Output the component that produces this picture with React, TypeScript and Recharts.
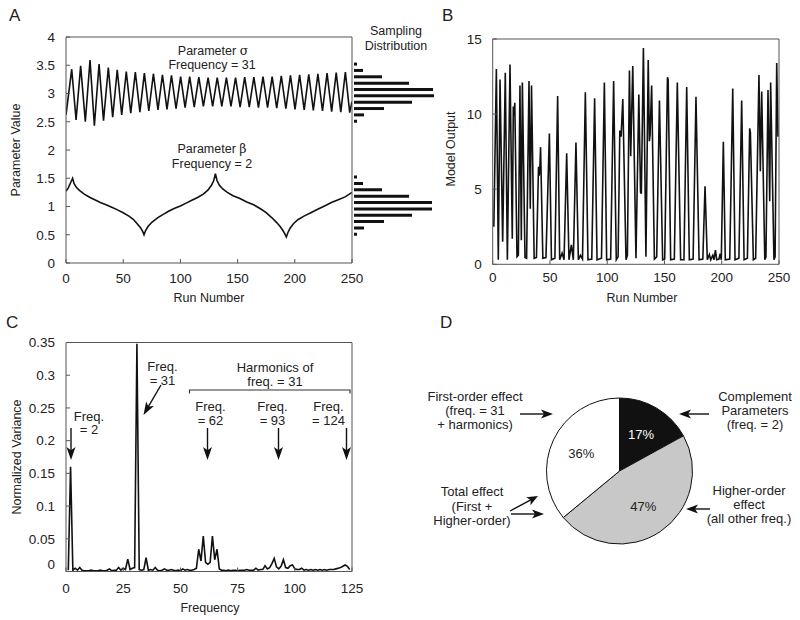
import React from 'react';
import { LineChart, Line, XAxis, YAxis, BarChart, Bar, PieChart, Pie, Cell } from 'recharts';

const FONT = '"Liberation Sans", Arial, Helvetica, sans-serif';
const AXIS = '#555';
const TXT = '#222';

// ---------- Panel A ----------
const runTicks = [0, 50, 100, 150, 200, 250];
const runInnerTicks = [50, 100, 150, 200];
const paramTicks = [0, 0.5, 1, 1.5, 2, 2.5, 3, 3.5, 4];
const paramInnerTicks = [0.5, 1, 1.5, 2, 2.5, 3, 3.5];

const sigmaPoints: [number, number][] = [
  [0, 2.62], [5.0, 3.43], [8.8, 2.53], [12.8, 3.49], [16.9, 2.5], [21.0, 3.59], [24.8, 2.43],
  [28.9, 3.52], [32.8, 2.52], [37.0, 3.46], [40.8, 2.58], [44.8, 3.42], [48.7, 2.62], [52.7, 3.39],
  [56.6, 2.65], [60.6, 3.38], [64.6, 2.67], [68.5, 3.36], [72.4, 2.69], [76.4, 3.35], [80.4, 2.71],
  [84.3, 3.33], [88.3, 2.72], [92.2, 3.32], [96.2, 2.73], [100.2, 3.3], [104.1, 2.75], [108.1, 3.3],
  [112.1, 2.76], [116.1, 3.29], [120.1, 2.77], [124.2, 3.28], [128.2, 2.77], [132.2, 3.28], [136.2, 2.77],
  [140.2, 3.28], [144.2, 2.77], [148.2, 3.28], [152.2, 2.76], [156.2, 3.29], [160.2, 2.76], [164.2, 3.29],
  [168.2, 2.75], [172.2, 3.3], [176.2, 2.75], [180.2, 3.3], [184.2, 2.74], [188.2, 3.31], [192.2, 2.73],
  [196.2, 3.32], [200.2, 2.72], [204.2, 3.33], [208.2, 2.71], [212.2, 3.34], [216.2, 2.7], [220.2, 3.35],
  [224.2, 2.69], [228.2, 3.36], [232.2, 2.68], [236.2, 3.37], [240.2, 2.67], [244.2, 3.38], [248.0, 2.66],
  [250, 2.86],
];

const betaPoints: [number, number][] = [
  [0, 1.27], [2, 1.33], [4, 1.42], [5.8, 1.5], [7, 1.41], [9, 1.34], [12, 1.28], [16, 1.22], [21, 1.16],
  [26, 1.11], [30, 1.07], [35, 1.03], [40, 0.985], [45, 0.94], [50, 0.89], [55, 0.83], [59, 0.77],
  [62, 0.7], [65, 0.63], [67, 0.56], [68.2, 0.5], [69.5, 0.57], [71.5, 0.64], [75, 0.72], [80, 0.8],
  [85, 0.86], [90, 0.92], [95, 0.97], [100, 1.01], [105, 1.06], [110, 1.11], [115, 1.16], [120, 1.22],
  [124, 1.29], [127, 1.37], [129, 1.45], [130.6, 1.58], [132, 1.46], [134, 1.38], [137, 1.31], [141, 1.25],
  [146, 1.19], [152, 1.14], [158, 1.08], [164, 1.03], [170, 0.96], [175, 0.89], [180, 0.8], [184, 0.72],
  [187, 0.65], [189.5, 0.58], [191.2, 0.52], [192.6, 0.46], [194, 0.54], [196, 0.62], [199, 0.7],
  [203, 0.77], [208, 0.83], [214, 0.89], [220, 0.95], [226, 1.01], [232, 1.07], [238, 1.12], [244, 1.17],
  [250, 1.25],
];

const sigmaBins = ['3.52', '3.41', '3.30', '3.19', '3.08', '2.96', '2.85', '2.74', '2.63', '2.52'];
const sigmaCounts = [3, 9, 28, 55, 79, 80, 58, 30, 10, 3];
const betaBins = ['1.53', '1.42', '1.31', '1.20', '1.09', '0.98', '0.87', '0.76', '0.65', '0.54'];
const betaCounts = [3, 9, 28, 55, 78, 78, 58, 30, 10, 3];

// ---------- Panel B ----------
const outputTicks = [0, 5, 10, 15];
const outputInnerTicks = [5, 10];
const outputPoints: [number, number][] = [
  [1, 2.5], [3.2, 13.0], [4.9, 0.3], [6.4, 12.3], [8.7, 1.5], [11.0, 12.75], [12.8, 0.3], [15.1, 13.3],
  [17.1, 1.7], [18.0, 10.5], [18.6, 9.9], [19.3, 10.75], [21.2, 0.5], [22.4, 0.6], [23.8, 11.9], [25.0, 1.6],
  [25.9, 12.1], [28.2, 0.45], [29.6, 0.4], [31.7, 12.2], [32.8, 3.7], [33.9, 11.9], [36.2, 0.4], [38.2, 0.45],
  [40.0, 6.5], [40.6, 5.9], [41.1, 6.3], [41.8, 7.8], [43.8, 0.4], [46.5, 0.45], [49.5, 8.7], [51.3, 0.3],
  [54.3, 0.4], [56.7, 11.2], [58.5, 0.3], [60.6, 0.75], [62.3, 0.3], [64.6, 7.4], [66.6, 0.3], [68.7, 1.3],
  [70.4, 0.3], [72.7, 8.1], [74.8, 0.3], [76.6, 0.6], [78.4, 0.35], [80.9, 11.45], [83.2, 0.3], [86.5, 0.35],
  [89.0, 11.05], [91.1, 0.3], [95.0, 0.4], [97.5, 12.1], [99.5, 0.3], [103.0, 0.35], [105.6, 12.2], [107.9, 0.3],
  [109.5, 0.5], [111.0, 8.9], [112.1, 8.5], [113.6, 11.0], [116.4, 0.3], [117.6, 0.6], [119.4, 12.9], [120.5, 7.2],
  [122.3, 13.2], [125.1, 0.4], [127.6, 11.3], [129.1, 4.8], [129.8, 4.7], [131.6, 14.4], [133.8, 0.5], [135.8, 13.6],
  [136.8, 8.2], [137.4, 8.6], [138.8, 11.9], [141.2, 0.35], [143.2, 0.5], [145.6, 10.9], [148.4, 0.3], [150.2, 0.35],
  [152.6, 12.45], [153.2, 12.3], [155.4, 0.3], [158.6, 0.35], [161.2, 12.1], [164.1, 0.3], [167.0, 0.3], [169.4, 11.8],
  [171.7, 0.3], [175.0, 0.35], [177.5, 11.15], [180.2, 0.3], [183.5, 0.35], [185.4, 5.2], [187.4, 0.3], [189.2, 0.65],
  [190.4, 0.3], [192.2, 0.6], [193.2, 0.3], [194.5, 0.95], [195.6, 0.3], [197.6, 0.35], [198.6, 0.7], [199.6, 0.3],
  [201.4, 8.15], [203.1, 0.3], [207.0, 0.35], [209.6, 11.7], [211.6, 0.3], [215.0, 0.4], [217.4, 10.9], [219.5, 0.3],
  [222.4, 0.4], [224.4, 9.05], [225.0, 8.8], [227.6, 0.3], [229.6, 0.4], [232.5, 12.6], [233.7, 6.2], [234.9, 11.5],
  [237.6, 0.3], [238.6, 0.5], [240.4, 11.6], [241.9, 4.2], [242.7, 12.1], [245.6, 0.3], [246.6, 0.5], [248.0, 13.4],
  [249.1, 8.5],
];

// ---------- Panel C ----------
const freqTicks = [0, 25, 50, 75, 100, 125];
const freqInnerTicks = [25, 50, 75, 100];
const varianceTicks = [0, 0.05, 0.1, 0.15, 0.2, 0.25, 0.3, 0.35];
const varianceInnerTicks = [0.05, 0.1, 0.15, 0.2, 0.25, 0.3];
// normalized variance for frequencies 1..124
const spectrum = [
  0.002, 0.16, 0.002, 0.005, 0.002, 0.006, 0.002, 0.001, 0.001, 0.001,
  0.002, 0.001, 0.001, 0.001, 0.002, 0.001, 0.001, 0.002, 0.004, 0.001,
  0.002, 0.002, 0.006, 0.002, 0.005, 0.003, 0.019, 0.003, 0.005, 0.006,
  0.348, 0.003, 0.002, 0.003, 0.021, 0.002, 0.003, 0.002, 0.006, 0.002,
  0.001, 0.002, 0.004, 0.002, 0.002, 0.003, 0.002, 0.001, 0.002, 0.001,
  0.004, 0.002, 0.003, 0.002, 0.002, 0.003, 0.005, 0.034, 0.016, 0.054,
  0.014, 0.011, 0.014, 0.054, 0.018, 0.034, 0.004, 0.002, 0.002, 0.001,
  0.002, 0.001, 0.002, 0.002, 0.001, 0.002, 0.002, 0.002, 0.003, 0.002,
  0.002, 0.002, 0.005, 0.002, 0.003, 0.003, 0.009, 0.004, 0.006, 0.012,
  0.02, 0.007, 0.004, 0.008, 0.018, 0.006, 0.005, 0.009, 0.01, 0.004,
  0.003, 0.003, 0.005, 0.002, 0.003, 0.002, 0.003, 0.002, 0.003, 0.002,
  0.003, 0.002, 0.003, 0.002, 0.003, 0.003, 0.003, 0.004, 0.005, 0.006,
  0.008, 0.01, 0.008, 0.003,
];

// ---------- Panel D ----------
const pieNames = ['Complement Parameters', 'Higher-order effect', 'First-order effect'];
const pieValues = [17, 47, 36];
const pieColors = ['#111111', '#c8c8c8', '#ffffff'];
const pieLabelColors = ['#ffffff', TXT, TXT];

// ---------- derived tables ----------
const sigmaData = sigmaPoints.map(([x, y]) => ({ x, y }));
const betaData = betaPoints.map(([x, y]) => ({ x, y }));
const outputData = outputPoints.map(([x, y]) => ({ x, y }));
const spectrumData = spectrum.map((y, i) => ({ x: i + 1, y }));
const sigmaHist = sigmaBins.map((bin, i) => ({ bin, count: sigmaCounts[i] }));
const betaHist = betaBins.map((bin, i) => ({ bin, count: betaCounts[i] }));
const pieData = pieNames.map((name, i) => ({ name, value: pieValues[i] }));

const tickStyle = { fontSize: 13.5, fill: TXT, fontFamily: FONT };

const VarianceTick = (props: any) => {
  const { x, y, payload } = props;
  const v = payload.value;
  const label = v === 0 ? '0' : String(Math.round(v * 100) / 100);
  return (
    <text x={x} y={y + (v === 0 ? -7.5 : 0)} dy="0.35em" textAnchor="end" fontSize={13.5} fill={TXT} fontFamily={FONT}>
      {label}
    </text>
  );
};

const RADIAN = Math.PI / 180;
const renderPieLabel = (props: any) => {
  const { cx, cy, midAngle, outerRadius, index, value } = props;
  const r = outerRadius * 0.58;
  const x = cx + r * Math.cos(-midAngle * RADIAN);
  const y = cy + r * Math.sin(-midAngle * RADIAN);
  return (
    <text x={x} y={y} dy="0.35em" textAnchor="middle" fontSize={13} fill={pieLabelColors[index]} fontFamily={FONT}>
      {`${value}%`}
    </text>
  );
};

function Arrow({ x1, y1, x2, y2, len = 12, half = 4.5 }: any) {
  const dx = x2 - x1;
  const dy = y2 - y1;
  const d = Math.sqrt(dx * dx + dy * dy);
  const ux = dx / d;
  const uy = dy / d;
  const bx = x2 - ux * len;
  const by = y2 - uy * len;
  const nx = -uy;
  const ny = ux;
  const pts = `${x2},${y2} ${bx + nx * half},${by + ny * half} ${x2 - ux * len * 0.75},${y2 - uy * len * 0.75} ${bx - nx * half},${by - ny * half}`;
  return (
    <g>
      <line x1={x1} y1={y1} x2={x2 - ux * len * 0.7} y2={y2 - uy * len * 0.7} stroke="#111" strokeWidth={1.4} />
      <polygon points={pts} fill="#111" />
    </g>
  );
}

const T = ({ x, y, children, size = 12.5, anchor = 'middle' }: any) => (
  <text x={x} y={y} fontSize={size} fill={TXT} fontFamily={FONT} textAnchor={anchor}>
    {children}
  </text>
);

export default function App() {
  return (
    <div style={{ position: 'absolute', left: 0, top: 0, width: 800, height: 620, background: '#fff', fontFamily: FONT }}>
      {/* Panel A */}
      <div style={{ position: 'absolute', left: 0, top: 0 }}>
        <LineChart width={400} height={310} margin={{ top: 32, right: 43, bottom: 17, left: 16 }}>
          <XAxis xAxisId="b" dataKey="x" type="number" domain={[0, 250]} ticks={runTicks} interval={0} height={30}
            tickSize={-4} tickMargin={14.2} stroke={AXIS} tick={tickStyle} allowDataOverflow />
          <XAxis xAxisId="t" orientation="top" type="number" domain={[0, 250]} ticks={runInnerTicks} interval={0} height={5}
            tickSize={-4} tick={false} stroke={AXIS} allowDataOverflow />
          <YAxis yAxisId="l" type="number" domain={[0, 4]} ticks={paramTicks} interval={0} width={50}
            tickSize={-4} tickMargin={15} stroke={AXIS} tick={tickStyle} allowDataOverflow />
          <YAxis yAxisId="r" orientation="right" type="number" domain={[0, 4]} ticks={paramInnerTicks} interval={0} width={5}
            tickSize={4} tick={false} stroke={AXIS} allowDataOverflow />
          <Line xAxisId="b" yAxisId="l" data={sigmaData} dataKey="y" type="linear" stroke="#111" strokeWidth={1.6} dot={false} isAnimationActive={false} />
          <Line xAxisId="b" yAxisId="l" data={betaData} dataKey="y" type="linear" stroke="#111" strokeWidth={1.6} dot={false} isAnimationActive={false} />
        </LineChart>
      </div>
      <div style={{ position: 'absolute', left: 352, top: 60.8 }}>
        <BarChart layout="vertical" width={84} height={63.5} data={sigmaHist} margin={{ top: 0, right: 2, bottom: 0, left: 2 }} barCategoryGap="25%">
          <XAxis type="number" domain={[0, 80]} hide allowDataOverflow />
          <YAxis type="category" dataKey="bin" hide />
          <Bar dataKey="count" fill="#111" isAnimationActive={false} />
        </BarChart>
      </div>
      <div style={{ position: 'absolute', left: 352, top: 173.7 }}>
        <BarChart layout="vertical" width={84} height={63.6} data={betaHist} margin={{ top: 0, right: 2, bottom: 0, left: 2 }} barCategoryGap="25%">
          <XAxis type="number" domain={[0, 80]} hide allowDataOverflow />
          <YAxis type="category" dataKey="bin" hide />
          <Bar dataKey="count" fill="#111" isAnimationActive={false} />
        </BarChart>
      </div>

      {/* Panel B */}
      <div style={{ position: 'absolute', left: 400, top: 0 }}>
        <LineChart width={400} height={310} margin={{ top: 34, right: 16, bottom: 15.7, left: 42.7 }}>
          <XAxis xAxisId="b" dataKey="x" type="number" domain={[0, 250]} ticks={runTicks} interval={0} height={30}
            tickSize={-4} tickMargin={12.6} stroke={AXIS} tick={tickStyle} allowDataOverflow />
          <XAxis xAxisId="t" orientation="top" type="number" domain={[0, 250]} ticks={runInnerTicks} interval={0} height={5}
            tickSize={-4} tick={false} stroke={AXIS} allowDataOverflow />
          <YAxis yAxisId="l" type="number" domain={[0, 15]} ticks={outputTicks} interval={0} width={50}
            tickSize={-4} tickMargin={15} stroke={AXIS} tick={tickStyle} allowDataOverflow />
          <YAxis yAxisId="r" orientation="right" type="number" domain={[0, 15]} ticks={outputInnerTicks} interval={0} width={5}
            tickSize={-4} tick={false} stroke={AXIS} allowDataOverflow />
          <Line xAxisId="b" yAxisId="l" data={outputData} dataKey="y" type="linear" stroke="#111" strokeWidth={1.6} dot={false} isAnimationActive={false} />
        </LineChart>
      </div>

      {/* Panel C */}
      <div style={{ position: 'absolute', left: 0, top: 310 }}>
        <LineChart width={400} height={310} margin={{ top: 27.5, right: 43, bottom: 18.5, left: 16 }}>
          <XAxis xAxisId="b" dataKey="x" type="number" domain={[0, 125]} ticks={freqTicks} interval={0} height={30}
            tickSize={-4} tickMargin={16} stroke={AXIS} tick={tickStyle} allowDataOverflow />
          <XAxis xAxisId="t" orientation="top" type="number" domain={[0, 125]} ticks={freqInnerTicks} interval={0} height={5}
            tickSize={-4} tick={false} stroke={AXIS} allowDataOverflow />
          <YAxis yAxisId="l" type="number" domain={[0, 0.35]} ticks={varianceTicks} interval={0} width={50}
            tickSize={-4} tickMargin={15} stroke={AXIS} tick={<VarianceTick />} allowDataOverflow />
          <YAxis yAxisId="r" orientation="right" type="number" domain={[0, 0.35]} ticks={varianceInnerTicks} interval={0} width={5}
            tickSize={-4} tick={false} stroke={AXIS} allowDataOverflow />
          <Line xAxisId="b" yAxisId="l" data={spectrumData} dataKey="y" type="linear" stroke="#111" strokeWidth={1.6} dot={false} isAnimationActive={false} />
        </LineChart>
      </div>

      {/* Panel D */}
      <div style={{ position: 'absolute', left: 400, top: 310 }}>
        <PieChart width={400} height={310}>
          <Pie data={pieData} dataKey="value" nameKey="name" cx={214.5} cy={156} outerRadius={73} startAngle={90} endAngle={-270}
            stroke="#111" strokeWidth={1} label={renderPieLabel} labelLine={false} isAnimationActive={false}>
            {pieData.map((d, i) => (
              <Cell key={d.name} fill={pieColors[i]} />
            ))}
          </Pie>
        </PieChart>
      </div>

      {/* Annotations */}
      <svg width={800} height={620} style={{ position: 'absolute', left: 0, top: 0, pointerEvents: 'none' }}>
        {/* panel letters */}
        <T x={9} y={21} size={17} anchor="start">A</T>
        <T x={442} y={21} size={17} anchor="start">B</T>
        <T x={6} y={328} size={17} anchor="start">C</T>
        <T x={440} y={328} size={17} anchor="start">D</T>

        {/* Panel A texts */}
        <text x={19.5} y={150} transform="rotate(-90 19.5 150)" fontSize={12.5} fill={TXT} fontFamily={FONT} textAnchor="middle">Parameter Value</text>
        <T x={209} y={302}>Run Number</T>
        <text x={213} y={54.5} fontSize={12.5} fill={TXT} fontFamily={FONT} textAnchor="middle">
          Parameter <tspan fontFamily="'DejaVu Serif', 'Liberation Serif', serif">σ</tspan>
        </text>
        <T x={212} y={69}>Frequency = 31</T>
        <text x={212} y={153} fontSize={12.5} fill={TXT} fontFamily={FONT} textAnchor="middle">
          Parameter <tspan fontFamily="'DejaVu Serif', 'Liberation Serif', serif">β</tspan>
        </text>
        <T x={212} y={168}>Frequency = 2</T>
        <T x={396} y={35}>Sampling</T>
        <T x={396} y={50}>Distribution</T>

        {/* Panel B texts */}
        <text x={455} y={149} transform="rotate(-90 455 149)" fontSize={12.5} fill={TXT} fontFamily={FONT} textAnchor="middle">Model Output</text>
        <T x={642} y={302}>Run Number</T>

        {/* Panel C texts */}
        <text x={21} y={457} transform="rotate(-90 21 457)" fontSize={12.5} fill={TXT} fontFamily={FONT} textAnchor="middle">Normalized Variance</text>
        <T x={210} y={611.5}>Frequency</T>
        <T x={89} y={420.5} size={13}>Freq.</T>
        <T x={89} y={434} size={13}>= 2</T>
        <Arrow x1={71} y1={428} x2={71} y2={460} len={13} />
        <T x={162.5} y={370.5} size={13}>Freq.</T>
        <T x={162.5} y={384.5} size={13}>= 31</T>
        <Arrow x1={161} y1={385} x2={143.5} y2={415} len={13} />
        <T x={275} y={372} size={13}>Harmonics of</T>
        <T x={275} y={386} size={13}>freq. = 31</T>
        <polyline points="189.5,393.5 189.5,390 350,390 350,393.5" fill="none" stroke="#333" strokeWidth={1.2} />
        <T x={210.5} y={411} size={13}>Freq.</T>
        <T x={210.5} y={424.5} size={13}>= 62</T>
        <Arrow x1={207.5} y1={428} x2={207.5} y2={460} len={13} />
        <T x={272.5} y={411} size={13}>Freq.</T>
        <T x={272.5} y={424.5} size={13}>= 93</T>
        <Arrow x1={278.5} y1={428} x2={278.5} y2={460} len={13} />
        <T x={328.5} y={411} size={13}>Freq.</T>
        <T x={328.5} y={424.5} size={13}>= 124</T>
        <Arrow x1={346.5} y1={428} x2={346.5} y2={460} len={13} />

        {/* Panel D texts */}
        <T x={475} y={400.5} size={13}>First-order effect</T>
        <T x={475} y={414.5} size={13}>(freq. = 31</T>
        <T x={475} y={428.5} size={13}>+ harmonics)</T>
        <Arrow x1={520} y1={414} x2={553} y2={414} len={12} />
        <T x={755} y={400.5} size={13}>Complement</T>
        <T x={755} y={414.5} size={13}>Parameters</T>
        <T x={755} y={428.5} size={13}>(freq. = 2)</T>
        <Arrow x1={709} y1={414} x2={679} y2={414} len={12} />
        <T x={472} y={496} size={13}>Total effect</T>
        <T x={472} y={510.5} size={13}>(First +</T>
        <T x={472} y={525} size={13}>Higher-order)</T>
        <Arrow x1={510} y1={511} x2={538} y2={496} len={11} />
        <Arrow x1={511} y1={514} x2={544} y2={514} len={12} />
        <T x={749} y={494.5} size={13}>Higher-order</T>
        <T x={749} y={508.5} size={13}>effect</T>
        <T x={749} y={523} size={13}>(all other freq.)</T>
        <Arrow x1={710} y1={509} x2={686} y2={509} len={12} />
      </svg>
    </div>
  );
}
